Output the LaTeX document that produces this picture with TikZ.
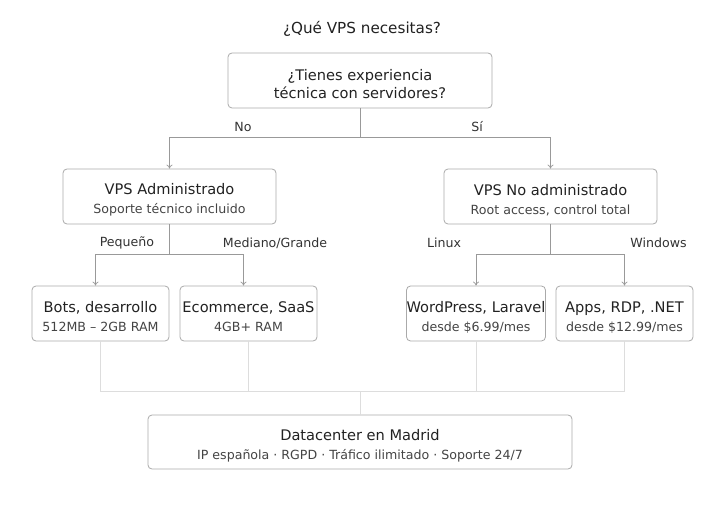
\documentclass[tikz,border=0pt]{standalone}
\usepackage{fontspec}
\setmainfont{DejaVu Sans}
\usetikzlibrary{arrows.meta}
\definecolor{boxline}{HTML}{AAAAAA}
\definecolor{txtmain}{HTML}{222222}
\definecolor{txtsub}{HTML}{444444}
\definecolor{txtlbl}{HTML}{333333}
\definecolor{conn}{HTML}{999999}
\definecolor{connlight}{HTML}{DDDDDD}
\tikzset{
  box/.style={draw=boxline, rounded corners=4pt, line width=0.8pt, fill=white, inner sep=0pt, align=center, font=\fontsize{12.6}{19}\selectfont},
  lbl/.style={font=\fontsize{12.6}{15}\selectfont, text=txtlbl, inner sep=0pt},
  conn/.style={draw=conn, line width=0.7pt},
  arr/.style={conn, -{To[length=4pt,width=6pt]}},
  lightconn/.style={draw=connlight, line width=0.7pt},
}
\newcommand{\twol}[2]{\rule{0pt}{18pt}{\fontsize{14.6}{19}\selectfont\color{txtmain}#1}\\{\color{txtsub}#2}}
\begin{document}
\begin{tikzpicture}[x=1pt,y=-1pt]
\useasboundingbox[fill=white] (0,0) rectangle (720,508);
\node[font=\fontsize{15.2}{18}\selectfont, text=txtmain] (title) at (362,29) {¿Qué VPS necesitas?};
% top box
\node[box, minimum width=264pt, minimum height=55pt, font=\fontsize{14.6}{18.5}\selectfont, text=txtmain] (q) at (360,80.5) {\rule{0pt}{18pt}¿Tienes experiencia\\técnica con servidores?};
% mid boxes
\node[box, minimum width=213pt, minimum height=55pt] (adm) at (169.5,196.5) {\twol{VPS Administrado}{Soporte técnico incluido}};
\node[box, minimum width=213pt, minimum height=55pt] (noadm) at (550.5,196.5) {\twol{VPS No administrado}{Root access, control total}};
% leaf boxes
\node[box, minimum width=137pt, minimum height=55pt] (b1) at (100.5,313.5) {\twol{Bots, desarrollo}{512MB – 2GB RAM}};
\node[box, minimum width=137pt, minimum height=55pt] (b2) at (248.5,313.5) {\twol{Ecommerce, SaaS}{4GB+ RAM}};
\node[box, minimum width=138pt, minimum height=55pt] (b3) at (476,313.5) {\twol{WordPress, Laravel}{desde \$6.99/mes}};
\node[box, minimum width=137pt, minimum height=55pt] (b4) at (624.5,313.5) {\twol{Apps, RDP, .NET}{desde \$12.99/mes}};
% bottom box
\node[box, minimum width=424pt, minimum height=54pt] (dc) at (360,442) {\twol{Datacenter en Madrid}{IP española · RGPD · Tráfico ilimitado · Soporte 24/7}};
% junction coordinates
\coordinate (j1) at (360,137);
\coordinate (j2) at (169.5,254);
\coordinate (j3) at (550.5,254);
\coordinate (j4) at (360,391);
% top connectors
\draw[conn] (q.south) -- (j1);
\draw[arr] (j1) -| (adm.north);
\draw[arr] (j1) -| (noadm.north);
\node[lbl] (lno) at (243,127) {No};
\node[lbl] (lsi) at (477,127) {Sí};
% left connectors
\draw[conn] (adm.south) -- (j2);
\draw[arr] (j2) -| ([xshift=-5pt]b1.north);
\draw[arr] (j2) -| ([xshift=-5pt]b2.north);
\node[lbl] (lpeq) at (127,243) {Pequeño};
\node[lbl] (lmed) at (275,243) {Mediano/Grande};
% right connectors
\draw[conn] (noadm.south) -- (j3);
\draw[arr] (j3) -| (b3.north);
\draw[arr] (j3) -| (b4.north);
\node[lbl] (llin) at (444,243) {Linux};
\node[lbl] (lwin) at (658.5,243) {Windows};
% light connectors to bottom
\draw[lightconn] (b1.south) |- (j4);
\draw[lightconn] (b2.south) |- (j4);
\draw[lightconn] (b3.south) |- (j4);
\draw[lightconn] (b4.south) |- (j4);
\draw[lightconn] (j4) -- (dc.north);
\end{tikzpicture}
\end{document}
